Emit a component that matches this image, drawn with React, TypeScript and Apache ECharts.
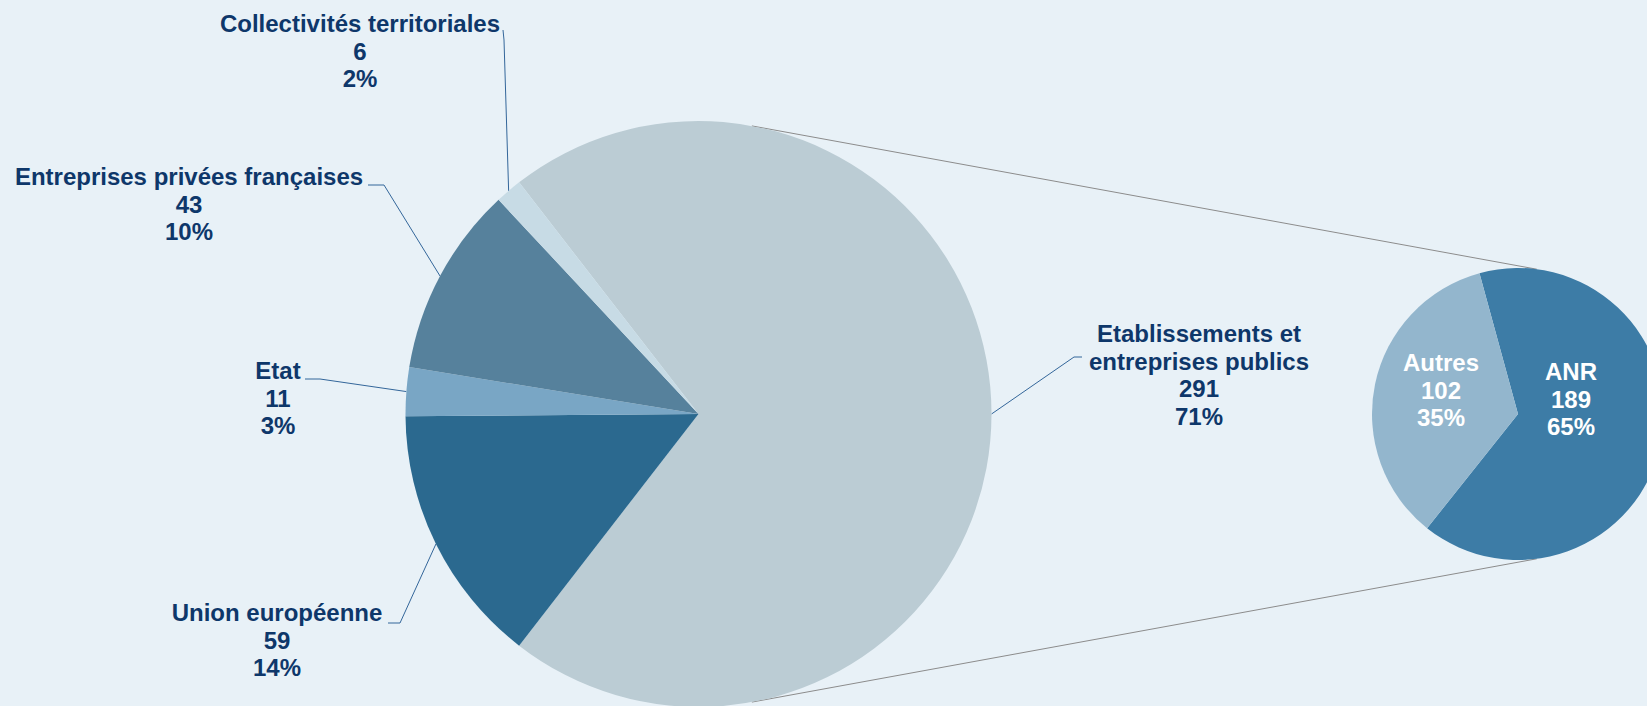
import { useEffect, useRef } from 'react';
import * as echarts from 'echarts';

// ---- Data ----
const MAIN_CATEGORIES = [
  'Etablissements et entreprises publics',
  'Union européenne',
  'Etat',
  'Entreprises privées françaises',
  'Collectivités territoriales',
];
const MAIN_LABEL_NAMES = [
  'Etablissements et\nentreprises publics',
  'Union européenne',
  'Etat',
  'Entreprises privées françaises',
  'Collectivités territoriales',
];
const MAIN_VALUES = [291, 59, 11, 43, 6];
const MAIN_PERCENTS = [71, 14, 3, 10, 2];

const SUB_CATEGORIES = ['ANR', 'Autres'];
const SUB_VALUES = [189, 102];
const SUB_PERCENTS = [65, 35];

// ---- Styles / layout ----
const MAIN_COLORS = ['#BBCCD4', '#2B698F', '#79A6C5', '#56819C', '#C7DBE5'];
const SUB_COLORS = ['#3D7CA6', '#93B6CD'];
const BG = '#E8F1F7';
const TEXT = '#0E376A';
const LEADER = '#33669A';

const MAIN_C = [698.5, 414];
const MAIN_R = 293;
const SUB_C = [1518, 414];
const SUB_R = 146;
const SUB_START = 105.3;

const MAIN_LABEL_POS = [
  [1199, 375],
  [277, 640],
  [278, 398],
  [189, 204],
  [360, 51],
];
const MAIN_LINE_BEND = [
  [1074, 357],
  [400, 623],
  [320, 379],
  [384, 185],
  [504, 40],
];
const MAIN_LINE_END = [
  [1082, 357],
  [388, 623],
  [305, 379],
  [368, 185],
  [503, 30],
];
const SUB_LABEL_POS = [
  [1571, 399],
  [1441, 390],
];

const FONT = "'Liberation Sans', Arial, sans-serif";

export default function App() {
  const ref = useRef<HTMLDivElement>(null);

  useEffect(() => {
    document.body.style.margin = '0';
    if (!ref.current) return;
    const chart = echarts.init(ref.current, undefined, { renderer: 'svg' });

    const total = MAIN_VALUES.reduce((a, b) => a + b, 0);
    const mainStart = (MAIN_VALUES[0] / total) * 360 / 2;
    const midAngles: number[] = [];
    let cum = 0;
    MAIN_VALUES.forEach((v) => {
      midAngles.push(mainStart - ((cum + v / 2) / total) * 360);
      cum += v;
    });
    const rad = (d: number) => (d * Math.PI) / 180;
    const onCircle = (c: number[], r: number, a: number) => [
      c[0] + r * Math.cos(rad(a)),
      c[1] - r * Math.sin(rad(a)),
    ];

    const topA = onCircle(MAIN_C, MAIN_R, 79.5);
    const topB = onCircle(SUB_C, SUB_R, 82.6);
    const botA = onCircle(MAIN_C, MAIN_R, -79.5);
    const botB = onCircle(SUB_C, SUB_R, -82.6);

    chart.setOption({
      animation: false,
      backgroundColor: BG,
      graphic: [
        {
          type: 'line',
          shape: { x1: topA[0], y1: topA[1], x2: topB[0], y2: topB[1] },
          style: { stroke: '#8C8C8C', lineWidth: 1 },
          z: 0,
        },
        {
          type: 'line',
          shape: { x1: botA[0], y1: botA[1], x2: botB[0], y2: botB[1] },
          style: { stroke: '#8C8C8C', lineWidth: 1 },
          z: 0,
        },
      ],
      series: [
        {
          type: 'pie',
          center: MAIN_C,
          radius: MAIN_R,
          startAngle: mainStart,
          clockwise: true,
          avoidLabelOverlap: false,
          data: MAIN_CATEGORIES.map((name, i) => ({
            name,
            value: MAIN_VALUES[i],
            itemStyle: { color: MAIN_COLORS[i] },
          })),
          itemStyle: { borderWidth: 0 },
          label: {
            show: true,
            position: 'outside',
            formatter: (p: any) =>
              `${MAIN_LABEL_NAMES[p.dataIndex]}\n${p.value}\n${MAIN_PERCENTS[p.dataIndex]}%`,
            color: TEXT,
            fontFamily: FONT,
            fontWeight: 'bold',
            fontSize: 24,
            lineHeight: 27.6,
            align: 'center',
          },
          labelLine: {
            show: true,
            lineStyle: { color: LEADER, width: 1 },
          },
          labelLayout: (p: any) => {
            const i = p.dataIndex;
            const start = onCircle(MAIN_C, MAIN_R, midAngles[i]);
            return {
              x: MAIN_LABEL_POS[i][0],
              y: MAIN_LABEL_POS[i][1],
              align: 'center',
              verticalAlign: 'middle',
              labelLinePoints: [start, MAIN_LINE_BEND[i], MAIN_LINE_END[i]],
            };
          },
          emphasis: { disabled: true },
        },
        {
          type: 'pie',
          center: SUB_C,
          radius: SUB_R,
          startAngle: SUB_START,
          clockwise: true,
          avoidLabelOverlap: false,
          data: SUB_CATEGORIES.map((name, i) => ({
            name,
            value: SUB_VALUES[i],
            itemStyle: { color: SUB_COLORS[i] },
          })),
          itemStyle: { borderWidth: 0 },
          label: {
            show: true,
            position: 'inside',
            formatter: (p: any) => `${p.name}\n${p.value}\n${SUB_PERCENTS[p.dataIndex]}%`,
            color: '#FFFFFF',
            fontFamily: FONT,
            fontWeight: 'bold',
            fontSize: 24,
            lineHeight: 27.6,
            align: 'center',
          },
          labelLine: { show: false },
          labelLayout: (p: any) => ({
            x: SUB_LABEL_POS[p.dataIndex][0],
            y: SUB_LABEL_POS[p.dataIndex][1],
            align: 'center',
            verticalAlign: 'middle',
          }),
          emphasis: { disabled: true },
        },
      ],
    });

    return () => chart.dispose();
  }, []);

  return <div ref={ref} style={{ width: 1647, height: 706 }} />;
}
